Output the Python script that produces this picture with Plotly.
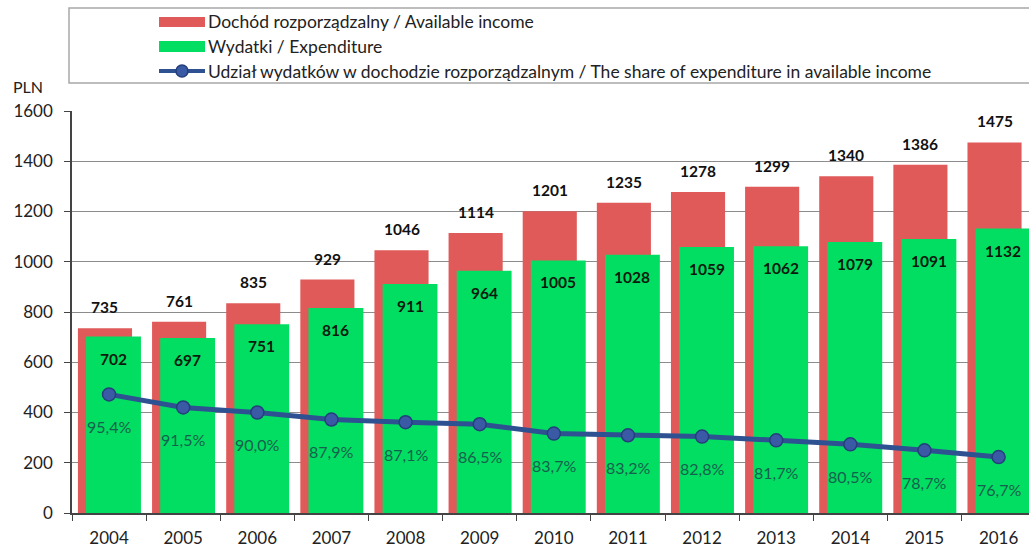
import plotly.graph_objects as go

years = ["2004", "2005", "2006", "2007", "2008", "2009", "2010",
         "2011", "2012", "2013", "2014", "2015", "2016"]
income = [735, 761, 835, 929, 1046, 1114, 1201, 1235, 1278, 1299, 1340, 1386, 1475]
expenditure = [702, 697, 751, 816, 911, 964, 1005, 1028, 1059, 1062, 1079, 1091, 1132]
share = [95.4, 91.5, 90.0, 87.9, 87.1, 86.5, 83.7, 83.2, 82.8, 81.7, 80.5, 78.7, 76.7]

legend_labels = [
    "Dochód rozporządzalny / Available income",
    "Wydatki / Expenditure",
    "Udział wydatków w dochodzie rozporządzalnym / The share of expenditure in available income",
]

RED = "#E15A5A"
GREEN = "#02DE62"
BLUE = "#2E5191"
FONT = "Lato, 'Open Sans', sans-serif"

W, H = 1029, 551
ML, MR, MT, MB = 72, 0, 111, 38
PW, PH = W - ML - MR, H - MT - MB
XMIN, XMAX = -0.5, 12.41
PX_PER_UNIT = PW / (XMAX - XMIN)

RED_OFF, RED_W = -0.42, 0.73
GRN_OFF, GRN_W = -0.31, 0.74

fig = go.Figure()
fig.add_trace(go.Bar(x=years, y=income, marker=dict(color=RED, line=dict(width=0)),
                     offset=RED_OFF, width=RED_W, name=legend_labels[0]))
fig.add_trace(go.Bar(x=years, y=expenditure, marker=dict(color=GREEN, line=dict(width=0)),
                     offset=GRN_OFF, width=GRN_W, name=legend_labels[1]))
fig.add_trace(go.Scatter(x=years, y=share, yaxis="y2", mode="lines+markers",
                         line=dict(color=BLUE, width=5),
                         marker=dict(size=13, color="#3A5AA6", line=dict(color="#243F7A", width=1.5)),
                         name=legend_labels[2]))

ann = []
red_shift = (RED_OFF + RED_W / 2) * PX_PER_UNIT
grn_shift = (GRN_OFF + GRN_W / 2) * PX_PER_UNIT
for i, (inc, exp, sh) in enumerate(zip(income, expenditure, share)):
    ann.append(dict(x=i, y=inc, xref="x", yref="y", text=f"<b>{inc}</b>", showarrow=False,
                    xshift=red_shift, yshift=21, font=dict(size=15.5, color="#111111", family=FONT)))
    ann.append(dict(x=i, y=exp, xref="x", yref="y", text=f"<b>{exp}</b>", showarrow=False,
                    xshift=grn_shift, yshift=-22, font=dict(size=15.5, color="#0a1a0e", family=FONT)))
    ann.append(dict(x=i, y=sh, xref="x", yref="y2", text=f"{sh:.1f}%".replace(".", ","),
                    showarrow=False, yshift=-32,
                    font=dict(size=16, color="#15604D", family=FONT)))


def px(xp):
    return (xp - ML) / PW


def py(yp):
    return (H - MB - yp) / PH


shapes = [
    dict(type="rect", xref="paper", yref="paper", x0=px(69), x1=px(1040), y0=py(83), y1=py(8),
         line=dict(color="#A8A8A8", width=1.5), fillcolor="white", layer="below"),
    dict(type="rect", xref="paper", yref="paper", x0=px(159), x1=px(205), y0=py(27), y1=py(17),
         line=dict(width=0), fillcolor=RED),
    dict(type="rect", xref="paper", yref="paper", x0=px(159), x1=px(205), y0=py(52), y1=py(41),
         line=dict(width=0), fillcolor=GREEN),
    dict(type="line", xref="paper", yref="paper", x0=px(159), x1=px(205), y0=py(71), y1=py(71),
         line=dict(color=BLUE, width=4)),
    dict(type="circle", xref="paper", yref="paper", x0=px(176), x1=px(188), y0=py(77), y1=py(65),
         line=dict(color="#243F7A", width=1.5), fillcolor="#3A5AA6"),
]
for lbl, yc in zip(legend_labels, [21, 46, 71]):
    ann.append(dict(x=px(206), y=py(yc), xref="paper", yref="paper", text=lbl, showarrow=False,
                    xanchor="left", yanchor="middle", font=dict(size=17.5, color="#222222", family=FONT)))
ann.append(dict(x=px(28), y=py(86), xref="paper", yref="paper", text="PLN", showarrow=False,
                xanchor="center", yanchor="middle", font=dict(size=16, color="#222222", family=FONT)))

fig.update_layout(
    width=W, height=H,
    margin=dict(l=ML, r=MR, t=MT, b=MB, pad=0),
    paper_bgcolor="white", plot_bgcolor="white",
    barmode="overlay", showlegend=False,
    font=dict(family=FONT, size=17, color="#222222"),
    xaxis=dict(type="category", range=[XMIN, XMAX], tickson="boundaries", ticks="outside",
               ticklen=6, tickcolor="#444444", showline=True, linecolor="#444444", linewidth=1.5,
               showgrid=False, tickfont=dict(size=17, color="#222222"), ticklabelstandoff=9),
    yaxis=dict(range=[0, 1600], dtick=200, ticks="outside", ticklen=6, tickcolor="#444444",
               showline=True, linecolor="#444444", linewidth=1.5, showgrid=True,
               gridcolor="#8C8C8C", gridwidth=1, zeroline=False,
               tickfont=dict(size=17, color="#222222"), ticklabelstandoff=8),
    yaxis2=dict(range=[60, 180], overlaying="y", visible=False),
    annotations=ann, shapes=shapes,
)

fig.write_html("out.html", config={"displayModeBar": False},
               post_script="document.body.style.margin='0';document.body.style.overflow='hidden';")
